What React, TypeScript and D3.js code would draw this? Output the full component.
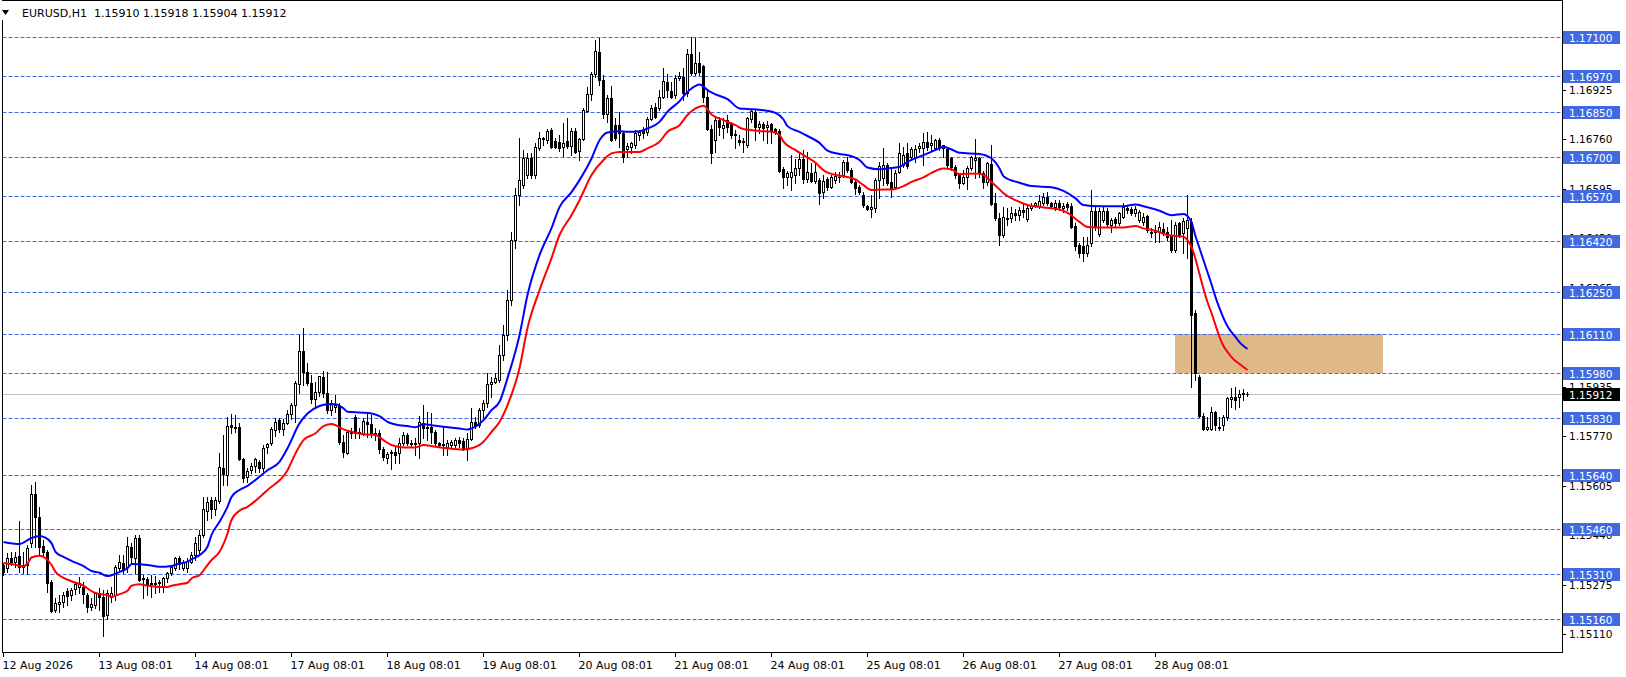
import React from "react";
import * as d3 from "d3";

// Prices are stored in points (1e-5)
const PT = 1e5;
const SYMBOL = "EURUSD,H1";
const HEADER_PRICES = "1.15910 1.15918 1.15904 1.15912";

const OPEN = [
115341,115331,115364,115351,115371,115334,115341,115414,115577,115501,
115404,115384,115284,115191,115211,115217,115254,115241,115261,115267,
115267,115241,115201,115207,115247,115234,115174,115234,115241,115331,
115347,115334,115401,115364,115431,115294,115294,115277,115281,115281,
115267,115297,115314,115331,115364,115331,115331,115351,115374,115391,
115441,115521,115557,115527,115554,115664,115641,115807,115801,115801,
115694,115634,115657,115671,115684,115664,115734,115747,115791,115824,
115794,115814,115844,115874,115944,116054,115984,115947,115894,115917,
115967,115914,115857,115867,115871,115751,115714,115784,115834,115781,
115781,115817,115811,115781,115781,115727,115697,115714,115717,115714,
115747,115774,115747,115747,115747,115814,115797,115801,115784,115747,
115741,115734,115741,115741,115757,115754,115731,115761,115817,115807,
115857,115881,115944,115951,115957,116041,116107,116224,116424,116574,
116607,116641,116697,116641,116731,116764,116757,116791,116754,116751,
116734,116754,116737,116787,116721,116761,116854,116911,116977,117051,
116957,116844,116897,116807,116807,116781,116727,116734,116741,116774,
116791,116784,116827,116867,116864,116901,116951,116921,116907,116964,
116967,116914,117044,116981,117014,117004,116901,116794,116757,116824,
116797,116824,116811,116774,116757,116751,116741,116827,116851,116801,
116811,116801,116811,116794,116787,116661,116634,116634,116641,116664,
116694,116627,116647,116621,116624,116584,116627,116601,116624,116634,
116641,116684,116657,116617,116601,116574,116537,116527,116531,116624,
116631,116674,116617,116601,116651,116674,116714,116701,116701,116731,
116731,116751,116741,116731,116757,116731,116727,116697,116667,116641,
116614,116634,116664,116691,116697,116647,116617,116677,116547,116497,
116441,116497,116497,116514,116507,116524,116494,116531,116541,116537,
116547,116567,116547,116534,116547,116531,116544,116537,116471,116407,
116404,116381,116414,116521,116444,116491,116521,116474,116494,116481,
116501,116531,116527,116514,116491,116484,116504,116451,116451,116451,
116461,116451,116437,116391,116481,116447,116464,116484,116181,115967,
115837,115794,115794,115851,115801,115807,115834,115894,115901,115901,
115911,115910];

const HIGH = [
115347,115381,115384,115384,115487,115384,115407,115607,115617,115534,
115424,115391,115291,115231,115241,115251,115264,115264,115284,115301,
115284,115247,115231,115251,115264,115257,115257,115267,115341,115374,
115374,115434,115414,115441,115441,115307,115301,115307,115304,115291,
115301,115317,115341,115367,115371,115357,115364,115384,115434,115457,
115567,115567,115567,115567,115714,115774,115834,115844,115841,115814,
115697,115664,115681,115697,115691,115741,115747,115801,115831,115831,
115827,115857,115881,115954,116107,116131,116014,115974,115951,115971,
115987,115984,115891,115907,115881,115774,115791,115797,115841,115797,
115831,115847,115841,115797,115791,115734,115717,115724,115737,115764,
115784,115781,115757,115764,115837,115874,115851,115847,115791,115751,
115801,115757,115757,115764,115767,115764,115781,115864,115834,115864,
115891,115981,115967,115981,116074,116141,116257,116451,116597,116764,
116724,116714,116714,116747,116784,116767,116794,116797,116764,116774,
116814,116831,116797,116797,116764,116864,116934,116984,117091,117097,
116974,116907,116937,116831,116851,116784,116747,116751,116791,116791,
116801,116834,116874,116881,116924,116997,116977,116951,116974,116984,
116997,117061,117101,117097,117051,117007,116924,116807,116831,116834,
116831,116841,116817,116791,116774,116764,116834,116861,116857,116821,
116817,116821,116814,116797,116794,116667,116654,116707,116694,116717,
116724,116717,116681,116684,116631,116641,116634,116641,116651,116651,
116691,116701,116664,116624,116607,116584,116541,116574,116631,116684,
116731,116681,116664,116657,116747,116734,116747,116734,116741,116747,
116781,116784,116774,116761,116764,116741,116734,116701,116674,116644,
116657,116671,116704,116761,116701,116654,116684,116741,116581,116514,
116534,116531,116534,116527,116534,116547,116537,116547,116551,116574,
116581,116584,116551,116557,116557,116547,116551,116547,116481,116414,
116434,116434,116591,116534,116531,116534,116531,116497,116501,116517,
116547,116537,116534,116537,116524,116514,116507,116464,116474,116484,
116481,116467,116491,116484,116484,116497,116574,116497,116191,115974,
115847,115834,115867,115854,115834,115841,115901,115931,115934,115924,
115927,115918];

const LOW = [
115307,115317,115341,115334,115317,115314,115311,115401,115401,115374,
115374,115251,115184,115184,115184,115201,115207,115224,115244,115247,
115214,115184,115191,115197,115191,115104,115161,115217,115224,115324,
115314,115317,115347,115314,115287,115231,115241,115234,115247,115251,
115251,115284,115307,115324,115327,115324,115317,115347,115357,115374,
115434,115491,115497,115507,115547,115607,115607,115781,115784,115691,
115617,115617,115647,115651,115651,115651,115714,115741,115771,115784,
115774,115811,115827,115817,115914,115941,115941,115881,115867,115904,
115901,115847,115841,115851,115744,115701,115711,115764,115764,115764,
115774,115767,115767,115757,115714,115691,115681,115661,115681,115681,
115741,115741,115734,115707,115697,115764,115757,115747,115741,115734,
115707,115707,115731,115734,115734,115724,115691,115757,115797,115801,
115834,115867,115901,115947,115951,116024,116091,116207,116397,116541,
116597,116631,116631,116631,116724,116741,116747,116731,116731,116721,
116704,116731,116707,116714,116691,116757,116851,116891,116967,116941,
116831,116817,116754,116757,116734,116684,116701,116714,116731,116757,
116764,116774,116824,116831,116857,116897,116901,116897,116897,116957,
116891,116904,116974,116974,116974,116884,116791,116681,116717,116774,
116764,116784,116764,116731,116741,116717,116734,116817,116757,116781,
116757,116747,116747,116777,116651,116597,116607,116591,116614,116641,
116614,116617,116617,116614,116544,116564,116591,116597,116614,116617,
116634,116651,116614,116577,116577,116534,116524,116501,116517,116564,
116607,116607,116567,116597,116647,116667,116664,116691,116684,116717,
116674,116724,116724,116724,116724,116701,116667,116657,116631,116597,
116611,116594,116657,116631,116634,116597,116607,116541,116491,116407,
116434,116474,116484,116491,116491,116501,116487,116524,116534,116531,
116541,116541,116531,116524,116524,116517,116524,116464,116391,116367,
116354,116371,116404,116457,116437,116484,116467,116451,116471,116474,
116497,116514,116507,116504,116484,116474,116451,116434,116417,116417,
116441,116424,116384,116384,116434,116381,116364,115934,115957,115834,
115791,115791,115791,115791,115791,115791,115824,115867,115861,115867,
115891,115904];

const CLOSE = [
115317,115364,115351,115367,115334,115341,115397,115577,115501,115401,
115384,115281,115187,115214,115217,115241,115237,115257,115277,115281,
115244,115201,115211,115247,115234,115171,115247,115247,115334,115351,
115327,115404,115367,115431,115291,115297,115274,115281,115277,115284,
115297,115314,115334,115364,115344,115351,115354,115374,115414,115441,
115527,115551,115527,115557,115667,115644,115804,115801,115797,115694,
115631,115654,115671,115694,115664,115731,115744,115794,115817,115794,
115814,115844,115874,115947,116054,115984,115947,115894,115917,115971,
115914,115857,115881,115874,115751,115717,115784,115781,115781,115784,
115821,115811,115781,115777,115727,115701,115711,115717,115707,115747,
115774,115747,115744,115746,115817,115797,115801,115784,115747,115741,
115744,115747,115751,115757,115747,115731,115761,115817,115807,115857,
115881,115944,115951,115964,116041,116107,116224,116424,116574,116624,
116697,116697,116641,116734,116764,116761,116787,116734,116734,116731,
116747,116737,116787,116717,116761,116857,116911,116977,117054,116957,
116844,116897,116757,116764,116781,116701,116737,116747,116781,116784,
116781,116827,116864,116834,116901,116954,116924,116901,116964,116971,
116914,117044,116981,117014,116984,116901,116794,116714,116824,116801,
116807,116801,116774,116777,116751,116754,116831,116854,116801,116811,
116797,116807,116791,116784,116654,116634,116647,116651,116664,116694,
116627,116651,116621,116651,116581,116621,116601,116634,116637,116633,
116684,116657,116617,116597,116583,116541,116527,116534,116624,116671,
116674,116614,116597,116647,116714,116707,116671,116727,116727,116737,
116751,116734,116747,116757,116731,116740,116674,116667,116641,116614,
116634,116664,116701,116697,116647,116617,116681,116544,116497,116441,
116501,116496,116514,116507,116524,116517,116531,116541,116547,116554,
116567,116547,116537,116547,116534,116537,116534,116467,116404,116381,
116381,116407,116521,116467,116521,116521,116477,116491,116481,116514,
116534,116524,116514,116527,116517,116501,116457,116447,116457,116467,
116447,116434,116391,116474,116441,116487,116491,116174,115981,115837,
115794,115801,115851,115807,115797,115834,115897,115901,115891,115911,
115914,115912];

// Moving averages: [bar index, price in points]
const MA_BLUE: [number, number][] = [
[0,115418],[4,115411],[7,115431],[9,115438],[10,115435],[12,115414],[13,115385],[15,115368],[17,115355],[20,115337],
[22,115321],[24,115315],[26,115304],[27,115307],[29,115318],[31,115330],[32,115344],[36,115341],[39,115335],[42,115338],
[44,115346],[46,115352],[47,115360],[49,115374],[51,115402],[52,115441],[54,115485],[56,115535],[57,115568],[59,115591],
[61,115605],[66,115657],[69,115685],[71,115730],[74,115813],[76,115846],[79,115871],[81,115877],[83,115877],[85,115863],
[86,115852],[89,115849],[92,115846],[94,115837],[96,115818],[99,115807],[101,115804],[103,115800],[105,115811],[107,115807],
[110,115802],[114,115796],[116,115793],[118,115802],[120,115824],[122,115857],[124,115885],[126,115964],[129,116107],[131,116241],
[134,116374],[137,116464],[139,116534],[142,116584],[144,116624],[147,116696],[149,116757],[151,116783],[154,116787],[156,116785],
[159,116787],[161,116796],[164,116818],[166,116852],[169,116887],[171,116918],[173,116938],[174,116943],[176,116924],[178,116910],
[181,116894],[184,116863],[186,116861],[190,116857],[193,116848],[195,116826],[196,116804],[199,116785],[201,116771],[204,116748],
[206,116722],[209,116711],[211,116707],[214,116691],[216,116666],[219,116660],[221,116663],[224,116668],[226,116685],[229,116702],
[231,116713],[234,116730],[235,116735],[237,116726],[239,116715],[244,116711],[247,116696],[249,116663],[250,116637],[254,116615],
[257,116604],[262,116600],[265,116588],[268,116563],[270,116541],[274,116537],[280,116537],[283,116543],[285,116537],[289,116522],
[292,116507],[295,116511],[296,116504],[297,116484],[298,116437],[299,116397],[300,116357],[301,116317],[302,116277],[303,116234],
[304,116197],[305,116164],[306,116137],[307,116117],[308,116101],[309,116084],[310,116071],[311,116061]];

const MA_RED: [number, number][] = [
[0,115348],[2,115344],[5,115337],[6,115346],[7,115366],[9,115372],[10,115368],[12,115342],[13,115318],[15,115298],
[17,115287],[20,115272],[22,115254],[23,115248],[26,115240],[27,115235],[29,115244],[31,115255],[32,115272],[34,115277],
[36,115272],[37,115271],[39,115268],[41,115268],[42,115272],[44,115277],[46,115282],[47,115296],[49,115307],[51,115341],
[52,115357],[54,115385],[56,115446],[57,115491],[59,115522],[61,115535],[66,115591],[71,115657],[73,115713],[75,115757],
[78,115780],[80,115804],[82,115811],[85,115793],[87,115785],[90,115777],[93,115774],[95,115757],[97,115741],[100,115733],
[103,115733],[105,115741],[108,115735],[111,115730],[115,115726],[117,115730],[120,115752],[122,115785],[124,115818],[126,115874],
[129,115997],[131,116131],[134,116257],[137,116364],[139,116441],[142,116507],[144,116557],[147,116641],[150,116691],[152,116713],
[154,116718],[156,116718],[159,116718],[161,116730],[164,116752],[166,116785],[169,116807],[171,116841],[173,116863],[175,116872],
[177,116843],[180,116824],[183,116807],[185,116794],[189,116788],[192,116785],[194,116774],[195,116752],[198,116724],[200,116707],
[203,116682],[205,116657],[208,116641],[210,116637],[213,116626],[215,116607],[217,116591],[220,116593],[222,116593],[225,116604],
[227,116618],[230,116633],[232,116648],[235,116663],[237,116660],[239,116644],[243,116646],[245,116641],[247,116618],[249,116593],
[250,116580],[253,116557],[256,116541],[260,116533],[264,116526],[266,116515],[269,116485],[271,116468],[275,116466],[280,116466],
[283,116471],[285,116463],[288,116455],[291,116441],[295,116435],[296,116424],[297,116401],[298,116361],[299,116311],[300,116261],
[301,116217],[302,116181],[303,116141],[304,116101],[305,116071],[306,116051],[307,116034],[308,116021],[309,116011],[310,116001],
[311,115991]];

const LEVELS = [1.171, 1.1697, 1.1685, 1.167, 1.1657, 1.1642, 1.1625, 1.1611, 1.1598, 1.1583, 1.1564, 1.1546, 1.1531, 1.1516];
const SCALE_TICKS = [1.1709, 1.16925, 1.1676, 1.16595, 1.1643, 1.16265, 1.161, 1.15935, 1.1577, 1.15605, 1.1544, 1.15275, 1.1511];
const BID = 1.15912;
const ZONE_BARS = [293, 345];
const ZONE_PRICES = [1.1611, 1.1598];
const DATE_BARS = [0, 24, 48, 72, 96, 120, 144, 168, 192, 216, 240, 264, 288];
const DATE_LABELS = ["12 Aug 2026", "13 Aug 08:01", "14 Aug 08:01", "17 Aug 08:01", "18 Aug 08:01", "19 Aug 08:01",
  "20 Aug 08:01", "21 Aug 08:01", "24 Aug 08:01", "25 Aug 08:01", "26 Aug 08:01", "27 Aug 08:01", "28 Aug 08:01"];

const W = 1626, H = 677;
const FONT = "'DejaVu Sans', Tahoma, sans-serif";
const LEVEL_COLOR = "#4169E1";

export default function App() {
  const n = OPEN.length;
  const x = d3.scaleLinear().domain([0, n - 1]).range([3.5, 3.5 + 4 * (n - 1)]);
  const y = d3.scaleLinear().domain([1.1516, 1.171]).range([619.3, 37.3]);
  const py = (v: number) => Math.round(y(v));
  const left = 2.5, right = 1562.5, bottom = 652.5, top = 0.5;

  const line = d3.line<[number, number]>()
    .x(d => x(d[0]))
    .y(d => y(d[1] / PT))
    .curve(d3.curveMonotoneX);

  const candles = OPEN.map((o, i) => {
    const O = o / PT, Hh = HIGH[i] / PT, L = LOW[i] / PT, C = CLOSE[i] / PT;
    const cx = x(i);
    const yH = py(Math.max(Hh, O, C)), yL = py(Math.min(L, O, C));
    const t = py(Math.max(O, C)), b = py(Math.min(O, C));
    const bull = C >= O;
    return (
      <g key={i}>
        <rect x={cx - 0.5} y={yH} width={1} height={yL - yH + 1} fill="#000" />
        <rect x={cx - 1.5} y={t} width={3} height={b - t + 1} fill="#000" />
        {bull && b - t >= 2 && <rect x={cx - 0.5} y={t + 1} width={1} height={b - t - 1} fill="#fff" />}
      </g>
    );
  });

  return (
    <svg width={W} height={H} style={{ position: "fixed", left: 0, top: 0, background: "#fff" }}
      fontFamily={FONT}>
      <rect x={0} y={0} width={W} height={H} fill="#fff" />
      {/* zone */}
      <rect x={x(ZONE_BARS[0]) - 0.5} y={py(ZONE_PRICES[0])}
        width={x(ZONE_BARS[1]) - x(ZONE_BARS[0])} height={py(ZONE_PRICES[1]) - py(ZONE_PRICES[0])}
        fill="#DEB887" />
      {/* levels */}
      {LEVELS.map((lv, i) => (
        <line key={i} x1={left} x2={right} y1={py(lv) + 0.5} y2={py(lv) + 0.5}
          stroke={LEVEL_COLOR} strokeWidth={1} strokeDasharray="4,2" />
      ))}
      {/* bid line */}
      <line x1={left} x2={right} y1={py(BID) + 0.5} y2={py(BID) + 0.5} stroke="#C0C0C0" strokeWidth={1} />
      {candles}
      <path d={line(MA_RED) || ""} fill="none" stroke="#FF0000" strokeWidth={2} />
      <path d={line(MA_BLUE) || ""} fill="none" stroke="#0000FF" strokeWidth={2} />
      {/* frame */}
      <rect x={left} y={top} width={right - left} height={bottom - top} fill="none" stroke="#000" strokeWidth={1} />
      {/* header */}
      <rect x={0} y={1} width={292} height={19} fill="#fff" />
      <polygon points="2,10 9,10 5.5,15" fill="#000" />
      <text x={22} y={17} fontSize={11} fill="#000">{SYMBOL}</text>
      <text x={94} y={17} fontSize={11} fill="#000">{HEADER_PRICES}</text>
      {/* price scale */}
      {SCALE_TICKS.map((t, i) => (
        <g key={i}>
          <line x1={1563} x2={1566} y1={py(t) + 0.5} y2={py(t) + 0.5} stroke="#000" />
          <text x={1569} y={y(t) + 4} fontSize={10.5} fill="#000">{t.toFixed(5)}</text>
        </g>
      ))}
      {LEVELS.map((lv, i) => (
        <g key={i}>
          <rect x={1563} y={py(lv) - 6} width={57} height={13} fill={LEVEL_COLOR} />
          <text x={1569} y={py(lv) + 4.5} fontSize={10.5} fill="#fff">{lv.toFixed(5)}</text>
        </g>
      ))}
      <rect x={1563} y={py(BID) - 6} width={57} height={13} fill="#000" />
      <text x={1569} y={py(BID) + 4.5} fontSize={10.5} fill="#fff">{BID.toFixed(5)}</text>
      {/* time scale */}
      {DATE_BARS.map((b, i) => (
        <g key={i}>
          <line x1={x(b)} x2={x(b)} y1={653} y2={657} stroke="#000" />
          <text x={x(b) - 1} y={669} fontSize={11} fill="#000">{DATE_LABELS[i]}</text>
        </g>
      ))}
    </svg>
  );
}
